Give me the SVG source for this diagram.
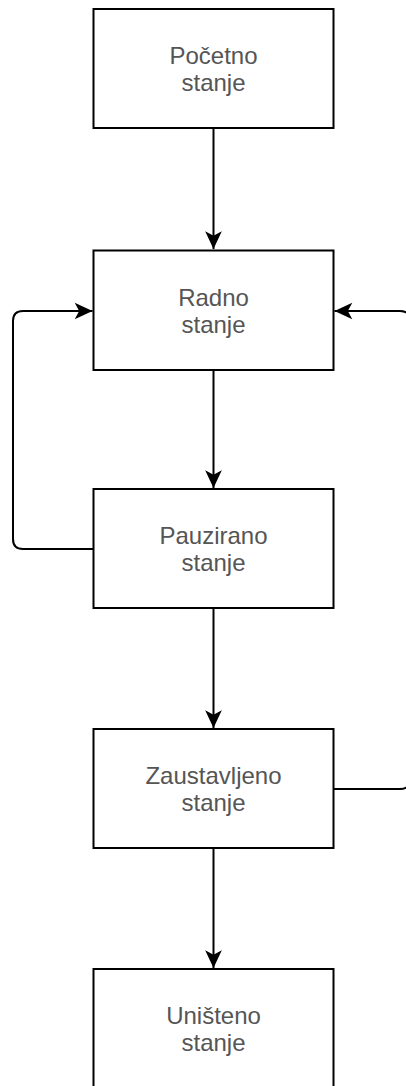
<svg xmlns="http://www.w3.org/2000/svg" width="406" height="1086" viewBox="0 0 406 1086">
<style>
.box{fill:#fff;stroke:#000;stroke-width:2}
.lbl{font-family:"Liberation Sans",Arial,sans-serif;font-size:24px;fill:#555;text-anchor:middle}
.edge{fill:none;stroke:#000;stroke-width:2}
</style>
<defs>
<marker id="arr" markerUnits="userSpaceOnUse" markerWidth="20" markerHeight="20" viewBox="-17 -9 18 18" refX="0" refY="0" orient="auto">
<path d="M0,0 L-16,-7.5 L-12,0 L-16,7.5 Z" fill="#000"/>
</marker>
</defs>
<rect width="406" height="1086" fill="#fff"/>
<g id="connectors">
<path class="edge" d="M213.5,129 V249" marker-end="url(#arr)"/>
<path class="edge" d="M213.5,371 V488" marker-end="url(#arr)"/>
<path class="edge" d="M213.5,609 V728" marker-end="url(#arr)"/>
<path class="edge" d="M213.5,849 V968" marker-end="url(#arr)"/>
<path class="edge" d="M93.5,549 H23 Q13,549 13,539 V321 Q13,311 23,311 H92.5" marker-end="url(#arr)"/>
<path class="edge" d="M333.5,789 H400 Q410,789 410,779 V321 Q410,311 400,311 H334.5" marker-end="url(#arr)"/>
</g>
<g id="node-pocetno">
<rect class="box" x="93.5" y="9" width="240" height="119"/>
<text class="lbl" x="213.5" y="64">Početno</text>
<text class="lbl" x="213.5" y="91">stanje</text>
</g>
<g id="node-radno">
<rect class="box" x="93.5" y="250.5" width="240" height="119.5"/>
<text class="lbl" x="213.5" y="306">Radno</text>
<text class="lbl" x="213.5" y="333">stanje</text>
</g>
<g id="node-pauzirano">
<rect class="box" x="93.5" y="489" width="240" height="119"/>
<text class="lbl" x="213.5" y="544">Pauzirano</text>
<text class="lbl" x="213.5" y="571">stanje</text>
</g>
<g id="node-zaustavljeno">
<rect class="box" x="93.5" y="729" width="240" height="119"/>
<text class="lbl" x="213.5" y="784">Zaustavljeno</text>
<text class="lbl" x="213.5" y="811">stanje</text>
</g>
<g id="node-unisteno">
<rect class="box" x="93.5" y="969" width="240" height="130"/>
<text class="lbl" x="213.5" y="1024">Uništeno</text>
<text class="lbl" x="213.5" y="1051">stanje</text>
</g>
</svg>
